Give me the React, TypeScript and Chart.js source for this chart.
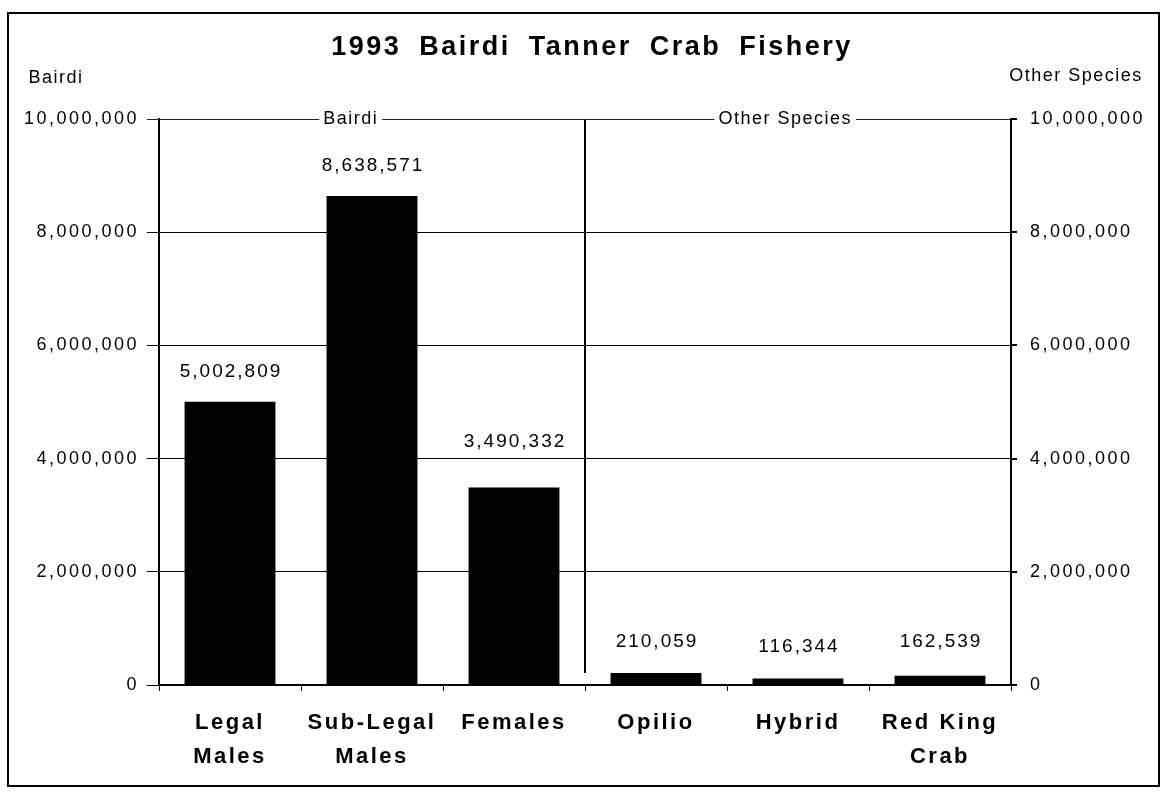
import React, { useEffect, useRef } from 'react';
import { Chart, registerables } from 'chart.js';

Chart.register(...registerables);

const categories: (string | string[])[] = [
  ['Legal', 'Males'],
  ['Sub-Legal', 'Males'],
  'Females',
  'Opilio',
  'Hybrid',
  ['Red King', 'Crab'],
];
const catchCounts = [5002809, 8638571, 3490332, 210059, 116344, 162539];
const yTickValues = [0, 2000000, 4000000, 6000000, 8000000, 10000000];
const chartTitle = '1993 Bairdi Tanner Crab Fishery';
const groupNames = ['Bairdi', 'Other Species'];
const leftAxisTitle = 'Bairdi';
const rightAxisTitle = 'Other Species';

const FONT = '"Liberation Sans", Arial, Helvetica, sans-serif';
const labelOffsets = [30, 30, 46, 31, 32, 34];

const fmt = (v: number) => Number(v).toLocaleString('en-US');

const decorPlugin = {
  id: 'decor',
  beforeUpdate(chart: any) {
    chart.ctx.letterSpacing = '2.5px';
  },
  beforeDraw(chart: any) {
    chart.ctx.letterSpacing = '2.5px';
  },
  afterDatasetsDraw(chart: any) {
    const ctx = chart.ctx;
    const meta = chart.getDatasetMeta(0);
    ctx.save();
    ctx.letterSpacing = '2px';
    ctx.font = `19px ${FONT}`;
    ctx.fillStyle = '#000';
    ctx.textAlign = 'center';
    ctx.textBaseline = 'middle';
    meta.data.forEach((bar: any, i: number) => {
      ctx.fillText(fmt(catchCounts[i]), bar.x + 1, bar.y - labelOffsets[i]);
    });
    ctx.restore();
  },
  afterDraw(chart: any) {
    const ctx = chart.ctx;
    const { chartArea } = chart;
    const xs = chart.scales.x;
    const ys = chart.scales.y;
    ctx.save();
    ctx.fillStyle = '#000';
    ctx.strokeStyle = '#000';

    // outer frame
    ctx.lineWidth = 2;
    ctx.strokeRect(8, 13, 1151, 773);

    // title
    ctx.letterSpacing = '2.5px';
    (ctx as any).wordSpacing = '8px';
    ctx.font = `bold 27px ${FONT}`;
    ctx.textAlign = 'center';
    ctx.textBaseline = 'middle';
    ctx.fillText(chartTitle, 592, 48);
    (ctx as any).wordSpacing = '0px';

    // axis titles
    ctx.letterSpacing = '1.5px';
    ctx.font = `18px ${FONT}`;
    ctx.fillText(leftAxisTitle, 56, 78);
    ctx.fillText(rightAxisTitle, 1076, 76);

    // divider between groups
    const divX = (xs.getPixelForValue(2) + xs.getPixelForValue(3)) / 2;
    ctx.lineWidth = 2;
    ctx.beginPath();
    ctx.moveTo(divX, chartArea.top);
    ctx.lineTo(divX, chartArea.bottom - 12);
    ctx.stroke();

    // top line with group names
    const topY = Math.round(ys.getPixelForValue(10000000)) + 0.5;
    const centers = [
      chartArea.left + 0.45 * (divX - chartArea.left),
      divX + 0.47 * (chartArea.right - divX),
    ];
    ctx.font = `18px ${FONT}`;
    const gaps = groupNames.map((name, i) => {
      const w = ctx.measureText(name).width;
      return [centers[i] - w / 2 - 4, centers[i] + w / 2 + 4];
    });
    groupNames.forEach((name, i) => ctx.fillText(name, centers[i], topY));
    ctx.lineWidth = 1;
    ctx.strokeStyle = '#222';
    const pts = [chartArea.left - 12, gaps[0][0], gaps[0][1], gaps[1][0], gaps[1][1], chartArea.right];
    ctx.beginPath();
    for (let i = 0; i < pts.length; i += 2) {
      ctx.moveTo(pts[i], topY);
      ctx.lineTo(pts[i + 1], topY);
    }
    ctx.stroke();
    ctx.restore();
  },
};

export default function App() {
  const ref = useRef<HTMLCanvasElement | null>(null);

  useEffect(() => {
    if (!ref.current) return;
    const tickFont = { family: FONT, size: 18 };
    const chart = new Chart(ref.current, {
      type: 'bar',
      data: {
        labels: categories as any,
        datasets: [
          {
            data: catchCounts,
            backgroundColor: '#000',
            borderWidth: 0,
            barPercentage: 0.64,
            categoryPercentage: 1,
            yAxisID: 'y',
          },
        ],
      },
      options: {
        animation: false,
        responsive: false,
        maintainAspectRatio: false,
        events: [],
        layout: { padding: { top: 119, left: 0, right: 0, bottom: 0 } },
        plugins: {
          legend: { display: false },
          title: { display: false },
          tooltip: { enabled: false },
        },
        scales: {
          x: {
            type: 'category',
            grid: {
              display: true,
              drawOnChartArea: false,
              drawTicks: true,
              tickLength: 6,
              color: '#000',
              lineWidth: 1,
              offset: true,
            },
            border: { display: true, color: '#000', width: 2 },
            ticks: {
              color: '#000',
              font: { family: FONT, size: 22, weight: 'bold', lineHeight: 1.55 },
              padding: 15,
              maxRotation: 0,
              minRotation: 0,
              autoSkip: false,
            },
            afterFit: (s: any) => {
              s.height = 109;
            },
          } as any,
          y: {
            position: 'left',
            min: 0,
            max: 10000000,
            afterBuildTicks: (s: any) => {
              s.ticks = yTickValues.map((v) => ({ value: v }));
            },
            ticks: {
              color: '#000',
              font: tickFont,
              padding: 8,
              callback: (v: any) => fmt(v),
            },
            grid: {
              color: (c: any) =>
                c.tick && c.tick.value === 10000000 ? 'rgba(0,0,0,0)' : '#000',
              lineWidth: 1,
              tickLength: 12,
              drawTicks: true,
            },
            border: { display: true, color: '#000', width: 2 },
            afterFit: (s: any) => {
              s.width = 159;
            },
          } as any,
          y2: {
            position: 'right',
            min: 0,
            max: 10000000,
            afterBuildTicks: (s: any) => {
              s.ticks = yTickValues.map((v) => ({ value: v }));
            },
            ticks: {
              color: '#000',
              font: tickFont,
              padding: 13,
              callback: (v: any) => fmt(v),
            },
            grid: {
              drawOnChartArea: false,
              drawTicks: true,
              tickLength: 6,
              color: '#000',
              lineWidth: 2,
            },
            border: { display: true, color: '#000', width: 2 },
            afterFit: (s: any) => {
              s.width = 153;
            },
          } as any,
        },
      },
      plugins: [decorPlugin as any],
    });
    return () => chart.destroy();
  }, []);

  return (
    <div
      style={{
        position: 'fixed',
        left: 0,
        top: 0,
        width: 1164,
        height: 794,
        background: '#fff',
      }}
    >
      <canvas ref={ref} width={1164} height={794} style={{ display: 'block' }} />
    </div>
  );
}
